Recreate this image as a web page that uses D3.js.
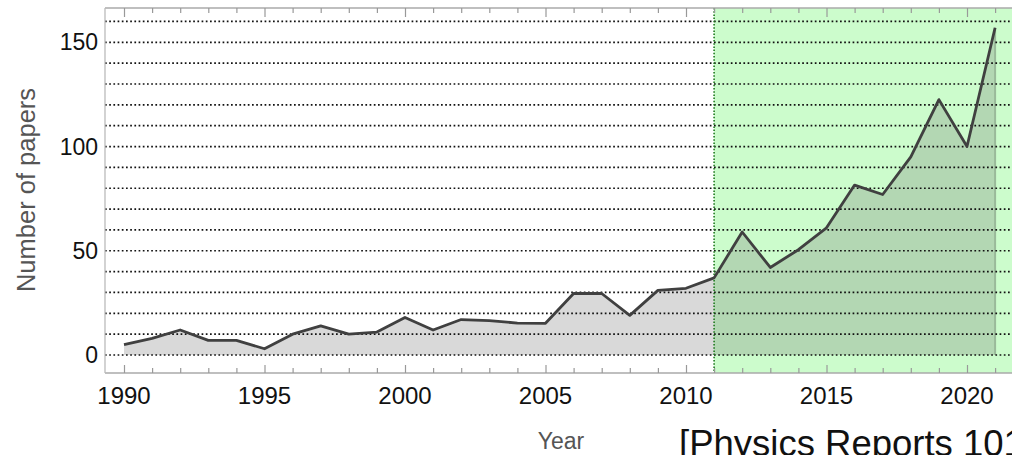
<!DOCTYPE html>
<html>
<head>
<meta charset="utf-8">
<script src="https://cdn.jsdelivr.net/npm/d3@7"></script>
<style>
  html, body { margin: 0; padding: 0; background: #fff; overflow: hidden; }
  svg { display: block; font-family: "Liberation Sans", Arial, Helvetica, sans-serif; }
</style>
</head>
<body>
<svg id="chart" width="1012" height="455"></svg>
<script>
// ---- data ----
const years = [1990,1991,1992,1993,1994,1995,1996,1997,1998,1999,2000,2001,2002,2003,2004,2005,2006,2007,2008,2009,2010,2011,2012,2013,2014,2015,2016,2017,2018,2019,2020,2021];
const papers = [5,8,12,7,7,3,10,14,10,11,18,12,17,16.5,15.3,15.2,29.5,29.5,19,31,32,37,59,42,50.5,61,81.5,77,95,122.5,100,157];
const xTickLabels = [1990,1995,2000,2005,2010,2015,2020];
const yTickLabels = [0,50,100,150];
const gridValues = [0,10,20,30,40,50,60,70,80,90,100,110,120,130,140,150,160];
const highlightStart = 2011;
const yLabel = "Number of papers";
const xLabel = "Year";
const citation = "[Physics Reports 101";

// ---- layout ----
const svg = d3.select("#chart");
const frame = {left: 105, right: 1020, top: 8, bottom: 373};
const x = d3.scaleLinear().domain([1990, 2020]).range([124, 967]);
const y = d3.scaleLinear().domain([0, 150]).range([355, 42.3]);

// highlight region
svg.append("rect")
  .attr("x", x(highlightStart)).attr("y", frame.top)
  .attr("width", frame.right - x(highlightStart)).attr("height", frame.bottom - frame.top)
  .attr("fill", "#ccfccc");

// area under curve
const data = years.map((yr, i) => ({yr, v: papers[i]}));
const area = d3.area().x(d => x(d.yr)).y0(y(0)).y1(d => y(d.v));
svg.append("path").datum(data).attr("d", area)
  .attr("fill", "#6d6d6d").attr("fill-opacity", 0.26);
// right edge of area
svg.append("line")
  .attr("x1", x(years[years.length-1])).attr("x2", x(years[years.length-1]))
  .attr("y1", y(0)).attr("y2", y(papers[papers.length-1]))
  .attr("stroke", "#9aba9a").attr("stroke-width", 2);

// gridlines
svg.append("g").selectAll("line").data(gridValues).join("line")
  .attr("x1", frame.left).attr("x2", frame.right)
  .attr("y1", d => y(d)).attr("y2", d => y(d))
  .attr("stroke", "#111").attr("stroke-width", 1.7)
  .attr("stroke-dasharray", "1.7,2.5");

// highlight divider
svg.append("line")
  .attr("x1", x(highlightStart)).attr("x2", x(highlightStart))
  .attr("y1", frame.top).attr("y2", frame.bottom)
  .attr("stroke", "#1f7a1f").attr("stroke-width", 1.6)
  .attr("stroke-dasharray", "1.5,1.7");

// frame
svg.append("line").attr("x1", frame.left).attr("x2", frame.right)
  .attr("y1", frame.top).attr("y2", frame.top).attr("stroke", "#aaa").attr("stroke-width", 1.3);
svg.append("line").attr("x1", frame.left).attr("x2", frame.right)
  .attr("y1", frame.bottom).attr("y2", frame.bottom).attr("stroke", "#aaa").attr("stroke-width", 1.3);
svg.append("line").attr("x1", frame.left).attr("x2", frame.left)
  .attr("y1", frame.top).attr("y2", frame.bottom).attr("stroke", "#bbb").attr("stroke-width", 1.3);

// x axis (bottom) with inward ticks
const minorYears = d3.range(1990, 2022);
const bottomAxis = d3.axisBottom(x).tickValues(minorYears).tickSize(-5).tickFormat("");
const gb = svg.append("g").attr("transform", `translate(0,${frame.bottom})`).call(bottomAxis);
gb.select(".domain").remove();
gb.selectAll(".tick line").attr("stroke", "#999").attr("stroke-width", 1.2)
  .attr("y2", d => xTickLabels.includes(d) ? -8 : -5);

const topAxis = d3.axisTop(x).tickValues(minorYears).tickSize(-5).tickFormat("");
const gt = svg.append("g").attr("transform", `translate(0,${frame.top})`).call(topAxis);
gt.select(".domain").remove();
gt.selectAll(".tick line").attr("stroke", "#999").attr("stroke-width", 1.2)
  .attr("y2", d => xTickLabels.includes(d) ? 9 : 5);

// x tick labels
svg.append("g").selectAll("text").data(xTickLabels).join("text")
  .attr("x", d => x(d)).attr("y", 404)
  .attr("text-anchor", "middle").attr("font-size", 24).attr("fill", "#111")
  .text(d => d);

// y tick labels
svg.append("g").selectAll("text").data(yTickLabels).join("text")
  .attr("x", 98).attr("y", d => y(d)).attr("dy", "0.35em")
  .attr("text-anchor", "end").attr("font-size", 23).attr("fill", "#111")
  .text(d => d);

// line
const line = d3.line().x(d => x(d.yr)).y(d => y(d.v));
svg.append("path").datum(data).attr("d", line)
  .attr("fill", "none").attr("stroke", "#404040").attr("stroke-width", 2.8)
  .attr("stroke-linejoin", "round");

// axis titles
svg.append("text")
  .attr("transform", "translate(35,190) rotate(-90)")
  .attr("text-anchor", "middle").attr("font-size", 25.5).attr("fill", "#555")
  .text(yLabel);
svg.append("text")
  .attr("x", 561).attr("y", 449)
  .attr("text-anchor", "middle").attr("font-size", 23).attr("fill", "#555")
  .text(xLabel);
svg.append("text")
  .attr("x", 679).attr("y", 456)
  .attr("font-size", 36.5).attr("fill", "#111")
  .text(citation);
</script>
</body>
</html>
